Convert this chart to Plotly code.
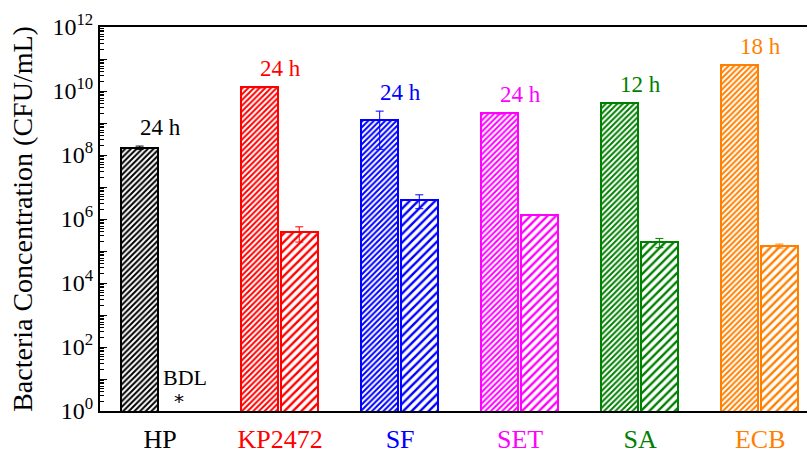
import numpy as np
import plotly.graph_objects as go

# Bacterial counts before / after treatment (CFU/mL)
groups = ["HP", "KP2472", "SF", "SET", "SA", "ECB"]
colors = ["#000000", "#FF0000", "#0000FF", "#FF00FF", "#008000", "#FF8000"]
growth_time = ["24 h", "24 h", "24 h", "24 h", "12 h", "18 h"]

initial = [1.7e8, 1.3e10, 1.25e9, 2.0e9, 4.1e9, 6.5e10]
initial_err = [2.0e7, 5.0e8, 1.1e9, 1.0e8, 1.0e8, 1.0e9]
treated = [None, 3.8e5, 3.9e6, 1.33e6, 1.87e5, 1.44e5]
treated_err = [None, 1.9e5, 1.8e6, 5.0e4, 6.0e4, 2.0e4]

FONT = "Liberation Serif, Times New Roman, serif"
BAR_W = 0.31

fig = go.Figure()
x = np.arange(len(groups))

for i, g in enumerate(groups):
    c = colors[i]
    # initial culture: dense hatch
    fig.add_trace(go.Bar(
        x=[x[i]], y=[initial[i]], width=[BAR_W], offset=-0.325,
        marker=dict(color="white", line=dict(color=c, width=2),
                    pattern=dict(shape="/", fgcolor=c, bgcolor="white",
                                 size=4, solidity=0.5, fillmode="replace")),
        error_y=dict(type="data", array=[initial_err[i]], color=c,
                     thickness=1, width=4),
        showlegend=False, hoverinfo="skip"))
    # after treatment: wide hatch
    if treated[i] is not None:
        fig.add_trace(go.Bar(
            x=[x[i]], y=[treated[i]], width=[BAR_W], offset=0.005,
            marker=dict(color="white", line=dict(color=c, width=2),
                        pattern=dict(shape="/", fgcolor=c, bgcolor="white",
                                     size=6, solidity=0.4, fillmode="replace")),
            error_y=dict(type="data", array=[treated_err[i]], color=c,
                         thickness=1, width=4),
            showlegend=False, hoverinfo="skip"))
    # incubation time label above the initial bar
    fig.add_annotation(x=x[i], y=np.log10(initial[i] + initial_err[i]),
                       text=growth_time[i], showarrow=False, yanchor="bottom",
                       yshift=4, font=dict(family=FONT, size=23, color=c))

# below-detection-limit marker for HP treated sample
fig.add_annotation(x=x[0] + 0.16, y=1.05, text="BDL", showarrow=False,
                   xanchor="center", yanchor="middle", xshift=6,
                   font=dict(family=FONT, size=22, color="black"))
fig.add_annotation(x=x[0] + 0.16, y=0.0, text="*", showarrow=False,
                   yanchor="bottom", yshift=-4,
                   font=dict(family="DejaVu Sans", size=20, color="black"))

decades = list(range(0, 13))
tick_vals = [10.0 ** k for k in decades]
tick_text = [f"10<sup>{k}</sup>" if k % 2 == 0 else "" for k in decades]
x_text = [f'<span style="color:{c}">{g}</span>' for g, c in zip(groups, colors)]

fig.update_layout(
    width=807, height=454,
    margin=dict(l=100, r=0, t=27, b=43, autoexpand=False),
    paper_bgcolor="white", plot_bgcolor="white",
    font=dict(family=FONT, color="black"),
    bargap=0, barmode="overlay",
    xaxis=dict(range=[-0.5, 5.39], tickvals=list(x), ticktext=x_text,
               showgrid=False, zeroline=False, showline=True, automargin=False,
               linecolor="black", linewidth=2, mirror=True, ticks="",
               tickfont=dict(family=FONT, size=26), ticklabelstandoff=4),
    yaxis=dict(type="log", range=[0, 12], tickvals=tick_vals, ticktext=tick_text,
               showgrid=False, zeroline=False, showline=True, automargin=False,
               linecolor="black", linewidth=2, ticks="inside", ticklen=7,
               tickwidth=1, tickcolor="black",
               minor=dict(ticks="inside", ticklen=4, tickwidth=1,
                          tickcolor="black", dtick="D1", showgrid=False),
               tickfont=dict(family=FONT, size=24),
               title=dict(text="Bacteria Concentration (CFU/mL)",
                          font=dict(family=FONT, size=28), standoff=12)),
)

fig.write_html("out.html")
